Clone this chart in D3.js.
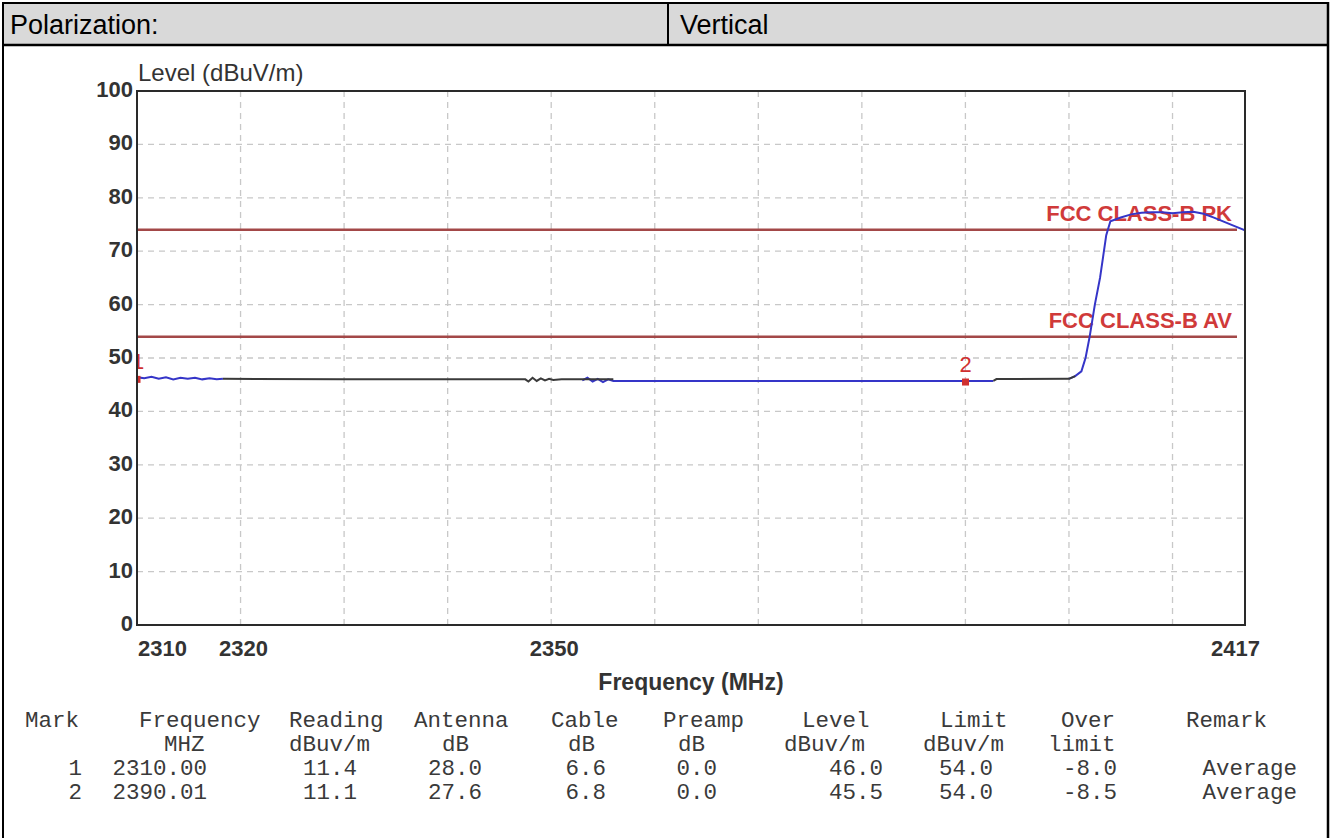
<!DOCTYPE html>
<html>
<head>
<meta charset="utf-8">
<script src="https://cdn.jsdelivr.net/npm/d3@7"></script>
<style>
  html, body { margin: 0; padding: 0; background: #ffffff; }
  svg { display: block; }
</style>
</head>
<body>
<svg id="chart" width="1333" height="838"></svg>
<script>
// ---------------- DATA ----------------
const headerLabel = "Polarization:";
const headerValue = "Vertical";
const yAxisTitle = "Level (dBuV/m)";
const xAxisTitle = "Frequency (MHz)";

const yTicks = [0, 10, 20, 30, 40, 50, 60, 70, 80, 90, 100];
const xTickLabels = [2310, 2320, 2350, 2417];
const xDomain = [2310, 2417];
const yDomain = [0, 100];

const limitNames = ["FCC CLASS-B PK", "FCC CLASS-B AV"];
const limitValues = [74, 54];

// blue trace: [frequency MHz, level dBuV/m], null = gap
const traceBlue = [
  [2310.0, 46.4], [2310.7, 46.2], [2311.4, 46.5], [2312.1, 46.1], [2312.8, 46.4],
  [2313.5, 46.0], [2314.2, 46.3], [2314.9, 46.1], [2315.6, 46.3], [2316.3, 46.0],
  [2317.0, 46.2], [2317.7, 46.0], [2318.3, 46.1],
  null,
  [2353.0, 45.8], [2353.5, 46.3], [2354.0, 45.6], [2354.5, 46.1], [2355.0, 45.5],
  [2355.5, 46.0], [2356.0, 45.7], [2366.0, 45.7], [2380.0, 45.7], [2392.7, 45.7],
  null,
  [2400.0, 46.1], [2400.6, 46.6], [2401.2, 47.5], [2401.6, 50.0], [2402.0, 54.0],
  [2402.5, 60.0], [2403.0, 65.0], [2403.3, 69.0], [2403.6, 73.0], [2404.0, 75.6],
  [2405.0, 76.3], [2406.0, 76.9], [2407.0, 77.2], [2408.0, 77.3], [2409.0, 77.3],
  [2410.0, 77.1], [2411.0, 77.3], [2412.0, 77.4], [2413.0, 77.0], [2414.0, 76.3],
  [2415.0, 75.5], [2416.0, 74.7], [2417.0, 73.9]
];
// dark trace segments
const traceDark = [
  [2318.3, 46.1], [2330.0, 46.0], [2347.5, 46.0], [2347.8, 45.6], [2348.2, 46.3],
  [2348.6, 45.7], [2349.0, 46.2], [2349.4, 45.8], [2349.8, 46.1], [2350.2, 45.9],
  [2351.0, 46.0], [2356.0, 46.0],
  null,
  [2392.7, 45.7], [2393.0, 46.05], [2400.0, 46.1], [2400.6, 46.6]
];

// table data
const tableHead1 = ["Mark", "Frequency", "Reading", "Antenna", "Cable", "Preamp", "Level", "Limit", "Over", "Remark"];
const tableHead2 = ["", "MHZ", "dBuv/m", "dB", "dB", "dB", "dBuv/m", "dBuv/m", "limit", ""];
const markNo = [1, 2];
const markFreq = [2310.00, 2390.01];
const markReading = [11.4, 11.1];
const markAntenna = [28.0, 27.6];
const markCable = [6.6, 6.8];
const markPreamp = [0.0, 0.0];
const markLevel = [46.0, 45.5];
const markLimit = [54.0, 54.0];
const markOver = [-8.0, -8.5];
const markRemark = ["Average", "Average"];

// ---------------- LAYOUT ----------------
const svg = d3.select("#chart");
const W = 1333, H = 838;
const plot = { left: 137, right: 1245, top: 91, bottom: 625 };
const sans = "Liberation Sans, Arial, sans-serif";

const x = d3.scaleLinear().domain(xDomain).range([plot.left, plot.right]);
const y = d3.scaleLinear().domain(yDomain).range([plot.bottom, plot.top]);

// header row
svg.append("rect").attr("x", 3).attr("y", 3).attr("width", 1325).attr("height", 42)
  .attr("fill", "#d9d9d9");
svg.append("text").attr("x", 10).attr("y", 34).text(headerLabel)
  .attr("font-family", sans).attr("font-size", 27).attr("fill", "#000");
svg.append("text").attr("x", 680).attr("y", 34).text(headerValue)
  .attr("font-family", sans).attr("font-size", 27).attr("fill", "#000");
// borders
const bc = "#000";
svg.append("line").attr("x1", 2).attr("x2", 1329).attr("y1", 3).attr("y2", 3).attr("stroke", bc).attr("stroke-width", 2);
svg.append("line").attr("x1", 2).attr("x2", 1329).attr("y1", 45).attr("y2", 45).attr("stroke", bc).attr("stroke-width", 2.5);
svg.append("line").attr("x1", 3).attr("x2", 3).attr("y1", 2).attr("y2", H).attr("stroke", bc).attr("stroke-width", 2);
svg.append("line").attr("x1", 1328).attr("x2", 1328).attr("y1", 2).attr("y2", H).attr("stroke", bc).attr("stroke-width", 2.5);
svg.append("line").attr("x1", 668).attr("x2", 668).attr("y1", 3).attr("y2", 45).attr("stroke", bc).attr("stroke-width", 2);

// grid
const gridColor = "#c8c8c8";
const g = svg.append("g");
g.selectAll(".hgrid").data(yTicks.filter(v => v > yDomain[0] && v < yDomain[1])).enter()
  .append("line").attr("x1", plot.left).attr("x2", plot.right)
  .attr("y1", d => y(d)).attr("y2", d => y(d))
  .attr("stroke", gridColor).attr("stroke-width", 1.3).attr("stroke-dasharray", "6,5");
const gridFreqs = d3.range(2320, xDomain[1], 10);
g.selectAll(".vgrid").data(gridFreqs).enter()
  .append("line").attr("y1", plot.top).attr("y2", plot.bottom)
  .attr("x1", d => x(d)).attr("x2", d => x(d))
  .attr("stroke", gridColor).attr("stroke-width", 1.3).attr("stroke-dasharray", "6,5");

// clip
svg.append("clipPath").attr("id", "plotclip").append("rect")
  .attr("x", plot.left + 1).attr("y", plot.top).attr("width", plot.right - plot.left - 1).attr("height", plot.bottom - plot.top);

// limit lines
const limG = svg.append("g");
limitValues.forEach((v, i) => {
  limG.append("line").attr("x1", plot.left).attr("x2", x(xDomain[1]) - 8)
    .attr("y1", y(v)).attr("y2", y(v))
    .attr("stroke", "#a34848").attr("stroke-width", 2.5);
  limG.append("text").attr("x", x(xDomain[1]) - 13).attr("y", y(v) - 9)
    .attr("text-anchor", "end").text(limitNames[i])
    .attr("font-family", sans).attr("font-weight", "bold")
    .attr("font-size", 22).attr("fill", "#d03a3a");
});

// traces
const line = d3.line().defined(d => d !== null).x(d => x(d[0])).y(d => y(d[1]));
const tg = svg.append("g").attr("clip-path", "url(#plotclip)");
tg.append("path").attr("d", line(traceBlue)).attr("fill", "none")
  .attr("stroke", "#3535c8").attr("stroke-width", 2);
tg.append("path").attr("d", line(traceDark)).attr("fill", "none")
  .attr("stroke", "#3a3a3a").attr("stroke-width", 2);

// markers
markNo.forEach((m, i) => {
  const mx = x(markFreq[i]), my = y(markLevel[i]);
  tg.append("rect").attr("x", mx - 3.5).attr("y", my - 3.5).attr("width", 7).attr("height", 7).attr("fill", "#d03030");
  const atEdge = mx <= plot.left + 1;
  tg.append("text").attr("x", atEdge ? mx - 5 : mx).attr("y", my - 10)
    .attr("text-anchor", atEdge ? "start" : "middle").text(m)
    .attr("font-family", sans).attr("font-size", 22).attr("fill", "#d03030");
});

// plot frame
svg.append("rect").attr("x", plot.left).attr("y", plot.top)
  .attr("width", plot.right - plot.left).attr("height", plot.bottom - plot.top)
  .attr("fill", "none").attr("stroke", "#2a2a2a").attr("stroke-width", 2);

// y axis labels
const tickSize = 22;
svg.append("g").selectAll("text").data(yTicks).enter().append("text")
  .attr("x", plot.left - 4).attr("y", d => y(d) + 6)
  .attr("text-anchor", "end").text(d => d)
  .attr("font-family", sans).attr("font-weight", "bold").attr("font-size", tickSize).attr("fill", "#333");

// x axis labels
svg.append("g").selectAll("text").data(xTickLabels).enter().append("text")
  .attr("x", (d, i) => i === 0 ? x(d) + 1 : (i === xTickLabels.length - 1 ? x(d) + 15 : x(d) + 3))
  .attr("y", plot.bottom + 31)
  .attr("text-anchor", (d, i) => i === 0 ? "start" : (i === xTickLabels.length - 1 ? "end" : "middle"))
  .text(d => d)
  .attr("font-family", sans).attr("font-weight", "bold").attr("font-size", tickSize).attr("fill", "#333");

// axis titles
svg.append("text").attr("x", plot.left + 1).attr("y", plot.top - 10).text(yAxisTitle)
  .attr("font-family", sans).attr("font-size", 24).attr("fill", "#333");
svg.append("text").attr("x", (plot.left + plot.right) / 2).attr("y", plot.bottom + 65)
  .attr("text-anchor", "middle").text(xAxisTitle)
  .attr("font-family", sans).attr("font-weight", "bold").attr("font-size", 23).attr("fill", "#333");

// ---------------- TABLE ----------------
const mono = "Liberation Mono, Courier New, monospace";
const tSize = 22.5;
const tColor = "#3a3a3a";
const head1X = [25, 139, 289, 414, 551, 663, 802, 940, 1061, 1186];
const head2X = [0, 164, 289, 442, 568, 678, 784, 923, 1048, 0];
const rowY = [727, 751, 775, 799];
const tt = svg.append("g").attr("font-family", mono).attr("font-size", tSize).attr("fill", tColor);
tableHead1.forEach((h, i) => tt.append("text").attr("x", head1X[i]).attr("y", rowY[0]).text(h));
tableHead2.forEach((h, i) => { if (h) tt.append("text").attr("x", head2X[i]).attr("y", rowY[1]).text(h); });

// value columns: right-aligned ends
const colEnd = [82, 207, 357, 482, 606, 717, 883, 993, 1117, 1297];
markNo.forEach((m, r) => {
  const vals = [
    String(m), markFreq[r].toFixed(2), markReading[r].toFixed(1), markAntenna[r].toFixed(1),
    markCable[r].toFixed(1), markPreamp[r].toFixed(1), markLevel[r].toFixed(1),
    markLimit[r].toFixed(1), markOver[r].toFixed(1), markRemark[r]
  ];
  vals.forEach((v, c) => tt.append("text").attr("x", colEnd[c]).attr("y", rowY[2 + r])
    .attr("text-anchor", "end").text(v));
});
</script>
</body>
</html>
